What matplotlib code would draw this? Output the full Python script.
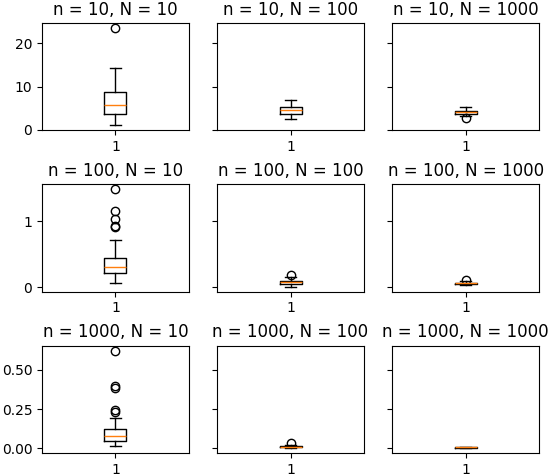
import matplotlib
matplotlib.use("Agg")
import matplotlib.pyplot as plt

n_values = [10, 100, 1000]
N_values = [10, 100, 1000]

# box statistics per (row n, column N): whislo, q1, med, q3, whishi, fliers
whislo = [[1.0, 2.6, 3.3], [0.07, 0.01, 0.03], [0.017, 0.002, 0.003]]
q1 = [[3.65, 3.6, 3.75], [0.225, 0.045, 0.05], [0.049, 0.008, 0.005]]
med = [[5.8, 4.5, 4.05], [0.315, 0.075, 0.06], [0.081, 0.012, 0.006]]
q3 = [[8.75, 5.3, 4.35], [0.445, 0.10, 0.07], [0.121, 0.016, 0.007]]
whishi = [[14.3, 6.8, 5.2], [0.72, 0.15, 0.09], [0.196, 0.025, 0.009]]
fliers = [
    [[23.6], [], [2.8]],
    [[1.48, 1.145, 1.03, 0.93, 0.91], [0.19], [0.11]],
    [[0.623, 0.396, 0.387, 0.243, 0.234], [0.035], []],
]

fig, axes = plt.subplots(3, 3, figsize=(5.49, 4.75), dpi=100, sharey='row')
for i, n in enumerate(n_values):
    for j, N in enumerate(N_values):
        ax = axes[i][j]
        stats = [dict(med=med[i][j], q1=q1[i][j], q3=q3[i][j],
                      whislo=whislo[i][j], whishi=whishi[i][j],
                      fliers=fliers[i][j], label='1')]
        ax.bxp(stats, positions=[1])
        ax.set_title(f"n = {n}, N = {N}")

axes[2][0].set_yticks([0.0, 0.25, 0.5])
axes[2][0].set_yticklabels(["0.00", "0.25", "0.50"])

fig.subplots_adjust(left=0.0765, right=0.982, top=0.9516, bottom=0.0463,
                    wspace=0.193, hspace=0.503)
fig.savefig("out.png", dpi=100)
